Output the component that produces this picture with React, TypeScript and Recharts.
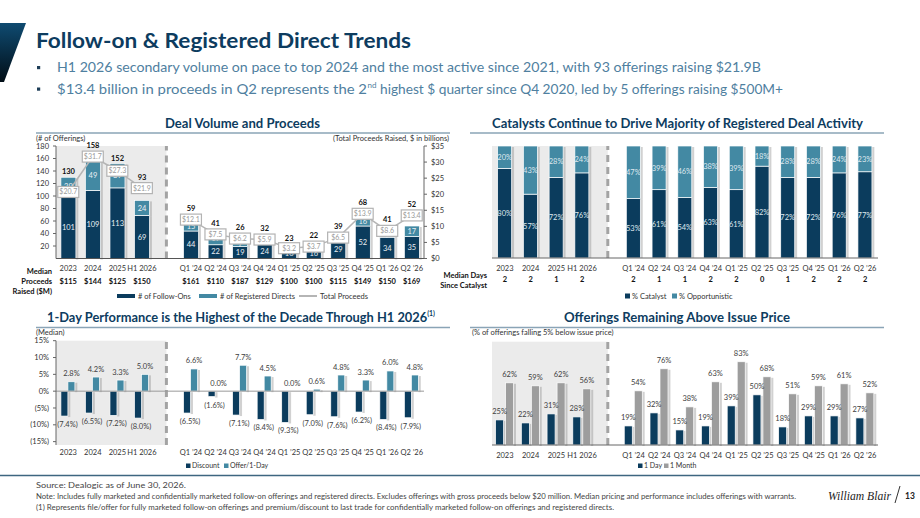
import React from 'react';
import {
  ComposedChart,
  BarChart,
  Bar,
  Line,
  XAxis,
  YAxis,
  ReferenceArea,
  ReferenceLine,
  LabelList,
} from 'recharts';

const FONT = 'Lato, "Open Sans", "Noto Sans", sans-serif';
const CF = FONT;
const FS = 7.5;
const NAVY = '#0b3c5d';
const TEAL = '#4389a3';
const GRAYBAR = '#9d9d9d';
const SHADE = '#ebebeb';
const TITLE = '#0d3c5f';
const AXIS = '#666';
const TXT = '#333';

// ---------- data ----------
const annualCats = ['2023', '2024', '2025', 'H1 2026'];
const quarterCats = ['Q1 ’24', 'Q2 ’24', 'Q3 ’24', 'Q4 ’24', 'Q1 ’25', 'Q2 ’25', 'Q3 ’25', 'Q4 ’25', 'Q1 ’26', 'Q2 ’26'];
const categories = [...annualCats, ...quarterCats];

const followOns = [101, 109, 113, 69, 44, 22, 19, 24, 16, 16, 29, 52, 34, 35];
const registeredDirects = [29, 49, 39, 24, 15, 19, 7, 8, 7, 6, 10, 16, 7, 17];
const totalOfferings = [130, 158, 152, 93, 59, 41, 26, 32, 23, 22, 39, 68, 41, 52];
const totalProceeds = [20.7, 31.7, 27.3, 21.9, 12.1, 7.5, 6.2, 5.9, 3.2, 3.7, 6.5, 13.9, 8.6, 13.4];
const medianProceeds = [115, 144, 125, 150, 161, 110, 187, 129, 100, 100, 115, 149, 150, 169];

const catalystPct = [80, 57, 72, 76, 53, 61, 54, 63, 61, 82, 72, 72, 76, 77];
const opportunisticPct = [20, 43, 28, 24, 47, 39, 46, 38, 39, 18, 28, 28, 24, 23];
const medianDays = [2, 2, 1, 2, 2, 1, 1, 2, 2, 0, 1, 2, 2, 2];

const discountPct = [-7.4, -6.5, -7.2, -8.0, -6.5, -1.6, -7.1, -8.4, -9.3, -7.0, -7.6, -6.2, -8.4, -7.9];
const offerPct = [2.8, 4.2, 3.3, 5.0, 6.6, 0.0, 7.7, 4.5, 0.0, 0.6, 4.8, 3.3, 6.0, 4.8];

const oneDayPct = [25, 22, 31, 28, 19, 32, 15, 19, 39, 50, 18, 29, 29, 27];
const oneMonthPct = [62, 59, 62, 56, 54, 76, 38, 63, 83, 68, 51, 59, 61, 52];

const volumeTicks = [20, 40, 60, 80, 100, 120, 140, 160, 180];
const proceedsMax = 35;
const proceedsTicks = [0, 5, 10, 15, 20, 25, 30, 35];
const perfTicks = [-15, -10, -5, 0, 5, 10, 15];

const GAP = 'gap';
function withGap(rows: any[]) {
  return [...rows.slice(0, annualCats.length), { cat: GAP }, ...rows.slice(annualCats.length)];
}

const volData = withGap(
  categories.map((cat, i) => ({
    cat,
    fo: followOns[i],
    rd: registeredDirects[i],
    total: totalOfferings[i],
    proceeds: totalProceeds[i],
    median: `$${medianProceeds[i]}`,
  }))
);
const catData = withGap(
  categories.map((cat, i) => ({ cat, catalyst: catalystPct[i], opp: opportunisticPct[i], median: `${medianDays[i]}` }))
);
const perfData = withGap(categories.map((cat, i) => ({ cat, discount: discountPct[i], offer: offerPct[i] })));
const aboveData = withGap(categories.map((cat, i) => ({ cat, day1: oneDayPct[i], month1: oneMonthPct[i] })));

const medianOf = (data: any[]) => {
  const m: Record<string, string> = {};
  data.forEach((r) => (m[r.cat] = r.median));
  return m;
};

// ---------- shared pieces ----------
const ShadowBar = (props: any) => {
  const { x, y, width, height, fill } = props;
  if (x == null || y == null || width == null || height == null) return null;
  const top = Math.min(y, y + height);
  const h = Math.abs(height);
  if (!(h > 0)) return null;
  return (
    <g>
      <rect x={x + width} y={top + 1} width={2.4} height={h} fill="#7a7a7a" opacity={0.35} />
      <rect x={x} y={top} width={width} height={h} fill={fill} stroke="#ffffff" strokeWidth={0.7} />
    </g>
  );
};

const shadeShape = (band: number) => (p: any) => (
  <rect x={p.x} y={Math.min(p.y, p.y + p.height)} width={band * 4.5} height={Math.abs(p.height)} fill={SHADE} />
);

const twoRowTick = (map: Record<string, string>, d1: number, d2: number) => (props: any) => {
  const { x, y, payload } = props;
  if (payload.value === GAP) return null;
  return (
    <g>
      <text x={x} y={y + d1} textAnchor="middle" fontSize={FS} fill={TXT} fontFamily={CF}>
        {payload.value}
      </text>
      <text x={x} y={y + d2} textAnchor="middle" fontSize={FS} fontWeight={700} fill="#111" fontFamily={CF}>
        {map[payload.value]}
      </text>
    </g>
  );
};

const oneRowTick = (d1: number) => (props: any) => {
  const { x, y, payload } = props;
  if (payload.value === GAP) return null;
  return (
    <text x={x} y={y + d1} textAnchor="middle" fontSize={FS} fill={TXT} fontFamily={CF}>
      {payload.value}
    </text>
  );
};

const box = (p: any) => {
  const vb = p.viewBox ?? p;
  return { x: vb.x ?? p.x, y: vb.y ?? p.y, width: vb.width ?? p.width ?? 0, height: vb.height ?? p.height ?? 0 };
};

// ---------- chart 1 ----------
const W1 = 470;
const H1 = 185;
const XH1 = 40;
const M1 = { top: 16, right: 16, left: 16, bottom: 16.5 };
const YW1 = 40;
const RYW1 = 30;
const band1 = (W1 - M1.left - M1.right - YW1 - RYW1) / 15;
const plotH1 = H1 - M1.top - M1.bottom - XH1;

// total label sits on the bar, or above the proceeds box when the two would collide
const TotalLabel = (p: any) => {
  if (p.value == null) return null;
  const [totalStr, procStr] = String(p.value).split('|');
  if (totalStr === 'undefined' || totalStr === '') return null;
  const b = box(p);
  const top = Math.min(b.y, b.y + b.height);
  const boxCy = M1.top + (1 - Number(procStr) / proceedsMax) * plotH1;
  let baseline = top - 3;
  const centre = baseline - 3;
  if (Math.abs(centre - boxCy) < 10) baseline = boxCy - 8.5;
  return (
    <text x={b.x + b.width / 2} y={baseline} textAnchor="middle" fontSize={FS} fontWeight={700} fill="#111" fontFamily={CF}>
      {totalStr}
    </text>
  );
};

const ProceedsBox = (p: any) => {
  if (p.value == null) return null;
  const b = box(p);
  return (
    <g>
      <rect x={b.x - 10.5} y={b.y - 5.5} width={21} height={11} fill="#fff" stroke="#b3b3b3" strokeWidth={1.2} />
      <text x={b.x} y={b.y + 2.5} textAnchor="middle" fontSize={7} fill="#9a9a9a" fontFamily={CF}>
        ${Number(p.value).toFixed(1)}
      </text>
    </g>
  );
};

const VolumeChart = () => (
  <ComposedChart width={W1} height={H1} data={volData} margin={M1} barCategoryGap="20%" style={{ fontFamily: CF }}>
    <XAxis
      dataKey="cat"
      interval={0}
      height={XH1}
      tickSize={0}
      tickMargin={0}
      stroke="#555"
      tickLine={false}
      tick={twoRowTick(medianOf(volData), 12.6, 25.3)}
    />
    <YAxis
      yAxisId="left"
      width={YW1}
      domain={[0, 180]}
      ticks={volumeTicks}
      interval={0}
      stroke={AXIS}
      tickSize={3}
      tickMargin={4}
      tick={{ fontSize: FS, fill: TXT, fontFamily: CF }}
    />
    <YAxis
      yAxisId="right"
      orientation="right"
      width={RYW1}
      domain={[0, proceedsMax]}
      ticks={proceedsTicks}
      interval={0}
      stroke={AXIS}
      tickSize={3}
      tickMargin={4}
      tickFormatter={(v: number) => `$${v}`}
      tick={{ fontSize: FS, fill: TXT, fontFamily: CF }}
    />
    <ReferenceArea yAxisId="left" x2={GAP} shape={shadeShape(band1)} ifOverflow="visible" />
    <ReferenceLine yAxisId="left" x={GAP} stroke="#a3a3a3" strokeWidth={3} strokeDasharray="7 5" />
    <Bar yAxisId="left" dataKey="fo" stackId="v" fill={NAVY} shape={ShadowBar} isAnimationActive={false}>
      <LabelList dataKey="fo" position="center" fill="#e9eff3" fontSize={FS} fontFamily={CF} />
    </Bar>
    <Bar yAxisId="left" dataKey="rd" stackId="v" fill={TEAL} shape={ShadowBar} isAnimationActive={false}>
      <LabelList dataKey="rd" position="center" fill="#e9eff3" fontSize={FS} fontFamily={CF} />
      <LabelList
        dataKey={(r: any) => (r.total == null ? null : `${r.total}|${r.proceeds}`)}
        content={TotalLabel}
      />
    </Bar>
    <Line yAxisId="right" dataKey="proceeds" stroke="#b5b5b5" strokeWidth={1.5} dot={false} isAnimationActive={false}>
      <LabelList dataKey="proceeds" content={ProceedsBox} />
    </Line>
  </ComposedChart>
);

// ---------- chart 2 ----------
const W2 = 440;
const H2 = 185;
const M2 = { top: 16, right: 22, left: 32, bottom: 17 };
const band2 = (W2 - M2.left - M2.right) / 15;

const CatalystChart = () => (
  <BarChart width={W2} height={H2} data={catData} margin={M2} barCategoryGap="22%" style={{ fontFamily: CF }}>
    <XAxis
      dataKey="cat"
      interval={0}
      height={40}
      tickSize={0}
      tickMargin={0}
      stroke={AXIS}
      tickLine={false}
      tick={twoRowTick(medianOf(catData), 13, 23.8)}
    />
    <YAxis hide domain={[0, 100]} allowDataOverflow />
    <ReferenceArea x2={GAP} shape={shadeShape(band2)} ifOverflow="visible" />
    <ReferenceLine x={GAP} stroke="#a3a3a3" strokeWidth={3} strokeDasharray="7 5" />
    <Bar dataKey="catalyst" stackId="c" fill={NAVY} shape={ShadowBar} isAnimationActive={false}>
      <LabelList dataKey="catalyst" position="center" fill="#dfe8ee" fontSize={FS} fontFamily={CF} formatter={(v: any) => `${v}%`} />
    </Bar>
    <Bar dataKey="opp" stackId="c" fill={TEAL} shape={ShadowBar} isAnimationActive={false}>
      <LabelList dataKey="opp" position="center" fill="#dfe8ee" fontSize={FS} fontFamily={CF} formatter={(v: any) => `${v}%`} />
    </Bar>
  </BarChart>
);

// ---------- chart 3 ----------
const W3 = 470;
const H3 = 150;
const M3 = { top: 15.7, right: 46, left: 16, bottom: 8 };
const YW3 = 40;
const band3 = (W3 - M3.left - M3.right - YW3) / 15;

const pctFmt = (v: number) => (v < 0 ? `(${Math.abs(v)}%)` : `${v}%`);

const DiscountLabel = (p: any) => {
  if (p.value == null) return null;
  const b = box(p);
  const bottom = Math.max(b.y, b.y + b.height);
  return (
    <text x={b.x + b.width / 2 + 3} y={bottom + 11} textAnchor="middle" fontSize={FS} fill="#404040" fontFamily={CF}>
      ({Math.abs(p.value).toFixed(1)}%)
    </text>
  );
};

const TopPctLabel = (digits: number) => (p: any) => {
  if (p.value == null) return null;
  const b = box(p);
  const top = Math.min(b.y, b.y + b.height);
  return (
    <text x={b.x + b.width / 2} y={top - 5.5} textAnchor="middle" fontSize={FS} fill="#404040" fontFamily={CF}>
      {Number(p.value).toFixed(digits)}%
    </text>
  );
};

const PerfChart = () => (
  <BarChart width={W3} height={H3} data={perfData} margin={M3} barCategoryGap="20%" barGap={0} style={{ fontFamily: CF }}>
    <XAxis dataKey="cat" interval={0} height={22} tickSize={0} tickMargin={0} axisLine={false} tickLine={false} tick={oneRowTick(9.5)} />
    <YAxis
      width={YW3}
      domain={[-16, 15]}
      ticks={perfTicks}
      interval={0}
      stroke={AXIS}
      tickSize={3}
      tickMargin={4}
      tickFormatter={pctFmt}
      tick={{ fontSize: FS, fill: TXT, fontFamily: CF }}
    />
    <ReferenceArea x2={GAP} shape={shadeShape(band3)} ifOverflow="visible" />
    <ReferenceLine x={GAP} stroke="#a3a3a3" strokeWidth={3} strokeDasharray="7 5" />
    <ReferenceLine y={0} stroke="#9a9a9a" strokeWidth={1} />
    <Bar dataKey="discount" fill={NAVY} shape={ShadowBar} isAnimationActive={false}>
      <LabelList dataKey="discount" content={DiscountLabel} />
    </Bar>
    <Bar dataKey="offer" fill={TEAL} shape={ShadowBar} isAnimationActive={false}>
      <LabelList dataKey="offer" content={TopPctLabel(1)} />
    </Bar>
  </BarChart>
);

// ---------- chart 4 ----------
const W4 = 440;
const H4 = 150;
const M4 = { top: 16.7, right: 22, left: 32, bottom: 8 };
const band4 = (W4 - M4.left - M4.right) / 15;

const AboveChart = () => (
  <BarChart width={W4} height={H4} data={aboveData} margin={M4} barCategoryGap="14%" barGap={2} style={{ fontFamily: CF }}>
    <XAxis dataKey="cat" interval={0} height={22} tickSize={0} tickMargin={0} stroke={AXIS} tickLine={false} tick={oneRowTick(12.7)} />
    <YAxis hide domain={[0, 103]} />
    <ReferenceArea x2={GAP} shape={shadeShape(band4)} ifOverflow="visible" />
    <ReferenceLine x={GAP} stroke="#a3a3a3" strokeWidth={3} strokeDasharray="7 5" />
    <Bar dataKey="day1" fill={NAVY} shape={ShadowBar} isAnimationActive={false}>
      <LabelList dataKey="day1" content={TopPctLabel(0)} />
    </Bar>
    <Bar dataKey="month1" fill={GRAYBAR} shape={ShadowBar} isAnimationActive={false}>
      <LabelList dataKey="month1" content={TopPctLabel(0)} />
    </Bar>
  </BarChart>
);

// ---------- overlay text ----------
const Overlay = () => (
  <svg width={920} height={518} style={{ position: 'absolute', left: 0, top: 0, pointerEvents: 'none' }} fontFamily={FONT}>
    <defs>
      <linearGradient id="tagGrad" x1="0" y1="0" x2="0" y2="1">
        <stop offset="0" stopColor="#0f4b71" />
        <stop offset="1" stopColor="#010d16" />
      </linearGradient>
    </defs>
    <polygon points="0,23 26,23 4,82 0,82" fill="url(#tagGrad)" />
    <text x={36} y={48} fontSize={20} fontWeight={700} fill={TITLE} textLength={375} lengthAdjust="spacingAndGlyphs">
      Follow-on &amp; Registered Direct Trends
    </text>
    <rect x={37} y={66} width={3.2} height={3.2} fill="#1d3d57" />
    <text x={57} y={72} fontSize={13.5} fill="#4f80a0" textLength={704} lengthAdjust="spacingAndGlyphs">
      H1 2026 secondary volume on pace to top 2024 and the most active since 2021, with 93 offerings raising $21.9B
    </text>
    <rect x={37} y={87.5} width={3.2} height={3.2} fill="#1d3d57" />
    <text x={57} y={93.5} fontSize={13.5} fill="#4f80a0" textLength={310} lengthAdjust="spacingAndGlyphs">
      $13.4 billion in proceeds in Q2 represents the 2
    </text>
    <text x={367.5} y={88} fontSize={8} fill="#4f80a0">nd</text>
    <text x={380} y={93.5} fontSize={13.5} fill="#4f80a0" textLength={403} lengthAdjust="spacingAndGlyphs">
      highest $ quarter since Q4 2020, led by 5 offerings raising $500M+
    </text>

    {/* section headers */}
    <text x={165} y={127.5} fontSize={14} fontWeight={700} fill={TITLE} textLength={155} lengthAdjust="spacingAndGlyphs">
      Deal Volume and Proceeds
    </text>
    <line x1={36} y1={133} x2={450} y2={133} stroke="#8aa4b6" strokeWidth={1.6} />
    <text x={492} y={127.5} fontSize={14} fontWeight={700} fill={TITLE} textLength={371} lengthAdjust="spacingAndGlyphs">
      Catalysts Continue to Drive Majority of Registered Deal Activity
    </text>
    <line x1={470} y1={133} x2={884} y2={133} stroke="#8aa4b6" strokeWidth={1.6} />
    <text x={47} y={322} fontSize={14} fontWeight={700} fill={TITLE} textLength={388} lengthAdjust="spacingAndGlyphs">
      1-Day Performance is the Highest of the Decade Through H1 2026
      <tspan fontSize={7.5} dy={-6.5}>(1)</tspan>
    </text>
    <line x1={36} y1={327.5} x2={450} y2={327.5} stroke="#8aa4b6" strokeWidth={1.6} />
    <text x={564} y={322} fontSize={14} fontWeight={700} fill={TITLE} textLength={226} lengthAdjust="spacingAndGlyphs">
      Offerings Remaining Above Issue Price
    </text>
    <line x1={470} y1={327.5} x2={884} y2={327.5} stroke="#8aa4b6" strokeWidth={1.6} />

    {/* sub captions */}
    <g fontSize={7.5} fill={TXT}>
      <text x={36} y={140.5}>(# of Offerings)</text>
      <text x={449} y={140.5} textAnchor="end">(Total Proceeds Raised, $ in billions)</text>
      <text x={36} y={334.5}>(Median)</text>
      <text x={472} y={334.5}>(% of offerings falling 5% below issue price)</text>
    </g>

    {/* row labels */}
    <g fontSize={7.5} fontWeight={700} fill="#111" textAnchor="end">
      <text x={52} y={274}>Median</text>
      <text x={52} y={284}>Proceeds</text>
      <text x={52} y={294}>Raised ($M)</text>
      <text x={487} y={277.5}>Median Days</text>
      <text x={487} y={287.5}>Since Catalyst</text>
    </g>

    {/* legends */}
    <g fontSize={7.5} fill={TXT}>
      <rect x={117} y={294} width={18} height={4} fill={NAVY} />
      <text x={138} y={298.8}># of Follow-Ons</text>
      <rect x={199} y={294} width={18} height={4} fill={TEAL} />
      <text x={220} y={298.8}># of Registered Directs</text>
      <line x1={299} y1={296} x2={317} y2={296} stroke="#b5b5b5" strokeWidth={2} />
      <text x={320} y={298.8}>Total Proceeds</text>
    </g>
    <g fontSize={7.5} fill={TXT}>
      <rect x={625} y={293.5} width={5} height={5} fill={NAVY} />
      <text x={632} y={298.8}>% Catalyst</text>
      <rect x={672} y={293.5} width={5} height={5} fill={TEAL} />
      <text x={679} y={298.8}>% Opportunistic</text>
    </g>
    <g fontSize={7} fill={TXT}>
      <rect x={186} y={463.5} width={4.5} height={4.5} fill={NAVY} />
      <text x={192} y={468.3}>Discount</text>
      <rect x={224} y={463.5} width={4.5} height={4.5} fill={TEAL} />
      <text x={230} y={468.3}>Offer/1-Day</text>
      <rect x={638} y={463.5} width={4.5} height={4.5} fill={NAVY} />
      <text x={644} y={468.3}>1 Day</text>
      <rect x={664} y={463.5} width={4.5} height={4.5} fill={GRAYBAR} />
      <text x={670} y={468.3}>1 Month</text>
    </g>

    {/* footer */}
    <line x1={0} y1={475.5} x2={920} y2={475.5} stroke="#3d6680" strokeWidth={1.5} />
    <g fontSize={7} fill="#444">
      <text x={36} y={488} textLength={150} lengthAdjust="spacingAndGlyphs">Source: Dealogic as of June 30, 2026.</text>
      <text x={36} y={499} textLength={760} lengthAdjust="spacingAndGlyphs">
        Note: Includes fully marketed and confidentially marketed follow-on offerings and registered directs. Excludes offerings with gross proceeds below $20 million. Median pricing and performance includes offerings with warrants.
      </text>
      <text x={36} y={509.5} textLength={578} lengthAdjust="spacingAndGlyphs">
        (1) Represents file/offer for fully marketed follow-on offerings and premium/discount to last trade for confidentially marketed follow-on offerings and registered directs.
      </text>
    </g>
    <text x={828} y={499.5} fontSize={12.5} fontStyle="italic" fontFamily='"Liberation Serif", "DejaVu Serif", serif' fill="#222" textLength={63} lengthAdjust="spacingAndGlyphs">
      William Blair
    </text>
    <line x1={900} y1={486} x2={895} y2={503} stroke="#333" strokeWidth={1} />
    <text x={905} y={498.5} fontSize={8.5} fontWeight={700} fill="#222">13</text>
  </svg>
);

export default function App() {
  return (
    <div style={{ position: 'absolute', left: 0, top: 0, width: 920, height: 518, background: '#fff', fontFamily: FONT, overflow: 'hidden' }}>
      <div style={{ position: 'absolute', left: 0, top: 130 }}>
        <VolumeChart />
      </div>
      <div style={{ position: 'absolute', left: 460, top: 130 }}>
        <CatalystChart />
      </div>
      <div style={{ position: 'absolute', left: 0, top: 325 }}>
        <PerfChart />
      </div>
      <div style={{ position: 'absolute', left: 460, top: 325 }}>
        <AboveChart />
      </div>
      <Overlay />
    </div>
  );
}
